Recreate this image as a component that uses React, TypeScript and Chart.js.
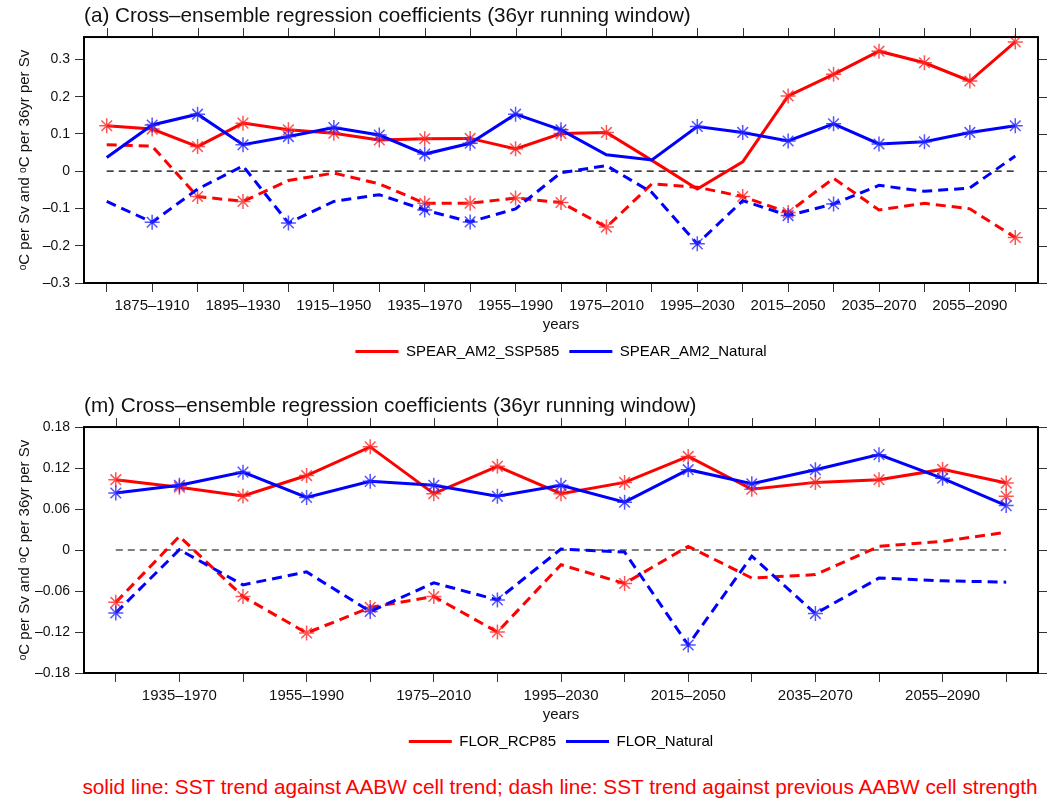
import React, { useEffect, useRef } from 'react';
import { Chart, registerables } from 'chart.js';

Chart.register(...registerables);

// ---------- DATA ----------
const spearWindows = [
  '1865–1900', '1875–1910', '1885–1920', '1895–1930', '1905–1940', '1915–1950', '1925–1960',
  '1935–1970', '1945–1980', '1955–1990', '1965–2000', '1975–2010', '1985–2020', '1995–2030',
  '2005–2040', '2015–2050', '2025–2060', '2035–2070', '2045–2080', '2055–2090', '2065–2100',
];
const florWindows = [
  '1925–1960', '1935–1970', '1945–1980', '1955–1990', '1965–2000', '1975–2010', '1985–2020',
  '1995–2030', '2005–2040', '2015–2050', '2025–2060', '2035–2070', '2045–2080', '2055–2090', '2065–2100',
];

// SPEAR panel (a)
const sspSolid = [0.122, 0.113, 0.066, 0.129, 0.111, 0.102, 0.084, 0.087, 0.088, 0.060, 0.101, 0.104, 0.029, -0.048, 0.025, 0.202, 0.260, 0.322, 0.291, 0.242, 0.347];
const sspSolidSig = [1, 1, 1, 1, 1, 1, 1, 1, 1, 1, 1, 1, 0, 0, 0, 1, 1, 1, 1, 1, 1];
const spearNatSolid = [0.037, 0.124, 0.153, 0.071, 0.093, 0.117, 0.097, 0.046, 0.075, 0.153, 0.111, 0.044, 0.030, 0.120, 0.104, 0.081, 0.127, 0.073, 0.079, 0.104, 0.122];
const spearNatSolidSig = [0, 1, 1, 1, 1, 1, 1, 1, 1, 1, 1, 0, 0, 1, 1, 1, 1, 1, 1, 1, 1];
const sspDash = [0.071, 0.067, -0.068, -0.081, -0.025, -0.005, -0.034, -0.086, -0.086, -0.072, -0.084, -0.150, -0.034, -0.043, -0.068, -0.111, -0.019, -0.104, -0.086, -0.101, -0.178];
const sspDashSig = [0, 0, 1, 1, 0, 0, 0, 1, 1, 1, 1, 1, 0, 0, 1, 1, 0, 0, 0, 0, 1];
const spearNatDash = [-0.081, -0.137, -0.048, 0.014, -0.139, -0.081, -0.063, -0.104, -0.136, -0.101, -0.004, 0.015, -0.057, -0.195, -0.079, -0.119, -0.088, -0.038, -0.054, -0.045, 0.041];
const spearNatDashSig = [0, 1, 0, 0, 1, 0, 0, 1, 1, 0, 0, 0, 0, 1, 0, 1, 1, 0, 0, 0, 0];

// FLOR panel (m)
const rcpSolid = [0.103, 0.092, 0.079, 0.109, 0.151, 0.0825, 0.1225, 0.0825, 0.099, 0.137, 0.089, 0.099, 0.103, 0.118, 0.098];
const rcpSolidSig = [1, 1, 1, 1, 1, 1, 1, 1, 1, 1, 1, 1, 1, 1, 1];
const florNatSolid = [0.0835, 0.0947, 0.114, 0.077, 0.1005, 0.0947, 0.0786, 0.0947, 0.070, 0.1176, 0.097, 0.1176, 0.1396, 0.105, 0.065];
const florNatSolidSig = [1, 1, 1, 1, 1, 1, 1, 1, 1, 1, 1, 1, 1, 1, 1];
const rcpDash = [-0.0766, 0.020, -0.068, -0.1215, -0.084, -0.068, -0.120, -0.0215, -0.049, 0.0054, -0.041, -0.036, 0.0054, 0.0127, 0.026];
const rcpDashSig = [1, 0, 1, 1, 1, 1, 1, 0, 1, 0, 0, 0, 0, 0, 0];
const florNatDash = [-0.092, 0.0005, -0.051, -0.032, -0.090, -0.048, -0.073, 0.0015, -0.003, -0.139, -0.009, -0.093, -0.041, -0.045, -0.047];
const florNatDashSig = [1, 0, 0, 0, 1, 0, 1, 0, 0, 1, 0, 1, 0, 0, 0];
const rcpExtraPoint = [null, null, null, null, null, null, null, null, null, null, null, null, null, null, 0.0786];

const spearYTickValues = [-0.3, -0.2, -0.1, 0, 0.1, 0.2, 0.3];
const spearYRange = { min: -0.3, max: 0.36, digits: 1 };
const florYTickValues = [-0.18, -0.12, -0.06, 0, 0.06, 0.12, 0.18];
const florYRange = { min: -0.18, max: 0.18, digits: 2 };

// ---------- STYLE ----------
const FONT = 'Liberation Sans, "DejaVu Sans", Arial, Helvetica, sans-serif';
const RED = '#ff0000';
const BLUE = '#0000ff';
const RED_MARK = 'rgba(255,40,40,0.8)';
const BLUE_MARK = 'rgba(40,40,255,0.8)';
const Y_TITLE = 'ᵒC per Sv and ᵒC per 36yr per Sv';

const framePlugin = {
  id: 'frameTicks',
  afterDraw(chart: any) {
    const { ctx, chartArea: a, scales } = chart;
    const xs = scales.x;
    const ys = scales.y;
    ctx.save();
    ctx.strokeStyle = '#333';
    ctx.lineWidth = 1;
    ctx.beginPath();
    xs.ticks.forEach((_t: any, i: number) => {
      const px = Math.round(xs.getPixelForTick(i)) + 0.5;
      ctx.moveTo(px, a.top);
      ctx.lineTo(px, a.top - 9);
    });
    ys.ticks.forEach((_t: any, i: number) => {
      const py = Math.round(ys.getPixelForTick(i)) + 0.5;
      ctx.moveTo(a.right, py);
      ctx.lineTo(a.right + 9, py);
    });
    ctx.stroke();
    ctx.strokeStyle = '#000';
    ctx.lineWidth = 2;
    ctx.strokeRect(a.left, a.top, a.right - a.left, a.bottom - a.top);
    ctx.restore();
  },
};

function series(label: string, data: (number | null)[], sig: number[], color: string, mark: string, dashed: boolean) {
  return {
    label,
    data,
    borderColor: color,
    backgroundColor: color,
    borderWidth: 3,
    borderDash: dashed ? [10, 6] : [],
    tension: 0,
    pointStyle: 'star',
    pointRadius: sig.map((s) => (s ? 7.5 : 0)),
    pointBorderColor: mark,
    pointBackgroundColor: mark,
    pointBorderWidth: 1.5,
    clip: 10,
  };
}

function makeConfig(p: any) {
  const yfmt = (v: number) => {
    if (Math.abs(v) < 1e-9) return '0';
    return (v < 0 ? '–' : '') + Math.abs(v).toFixed(p.yr.digits);
  };
  const datasets: any[] = [
    series(p.names[1], p.natSolid, p.natSolidSig, BLUE, BLUE_MARK, false),
    series(p.names[0], p.mainSolid, p.mainSolidSig, RED, RED_MARK, false),
    series(p.names[1] + ' dash', p.natDash, p.natDashSig, BLUE, BLUE_MARK, true),
    series(p.names[0] + ' dash', p.mainDash, p.mainDashSig, RED, RED_MARK, true),
  ];
  if (p.extra) {
    datasets.push({
      label: 'extra',
      data: p.extra,
      showLine: false,
      borderColor: RED,
      pointStyle: 'star',
      pointRadius: 7.5,
      pointBorderColor: RED_MARK,
      pointBorderWidth: 1.5,
      clip: 10,
    });
  }
  datasets.push({
    label: 'zero',
    data: p.labels.map(() => 0),
    borderColor: '#000',
    borderWidth: 1.2,
    borderDash: [7, 5],
    pointRadius: 0,
    tension: 0,
  });
  return {
    type: 'line',
    data: { labels: p.labels, datasets },
    plugins: [framePlugin],
    options: {
      responsive: false,
      animation: false,
      events: [],
      devicePixelRatio: 1,
      layout: { padding: { left: 0, right: 5, top: 0, bottom: 0 } },
      plugins: {
        tooltip: { enabled: false },
        title: {
          display: true,
          text: p.title,
          position: 'top',
          align: 'start',
          fullSize: false,
          color: '#111',
          font: { family: FONT, size: 20.7, weight: 'normal' },
          padding: { top: 4, bottom: 8.2 },
        },
        legend: {
          display: true,
          position: 'bottom',
          fullSize: false,
          labels: {
            boxWidth: 43,
            boxHeight: 3,
            padding: 10,
            color: '#111',
            font: { family: FONT, size: 15 },
            generateLabels: () => [
              { text: p.names[0], fillStyle: RED, strokeStyle: RED, lineWidth: 0, hidden: false, datasetIndex: 1 },
              { text: p.names[1], fillStyle: BLUE, strokeStyle: BLUE, lineWidth: 0, hidden: false, datasetIndex: 0 },
            ],
          },
        },
      },
      scales: {
        x: {
          type: 'category',
          offset: true,
          grid: { display: true, offset: false, drawOnChartArea: false, drawTicks: true, tickLength: 9, color: '#333', lineWidth: 1 },
          border: { display: false },
          ticks: {
            autoSkip: false,
            maxRotation: 0,
            minRotation: 0,
            padding: 5,
            color: '#111',
            font: { family: FONT, size: 15 },
            callback: (_v: any, i: number) => (i % 2 === 1 ? p.labels[i] : ''),
          },
          title: { display: true, text: 'years', color: '#111', font: { family: FONT, size: 15 }, padding: { top: 0, bottom: 0 } },
          afterFit: (s: any) => { s.height = 51; },
        },
        y: {
          type: 'linear',
          min: p.yr.min,
          max: p.yr.max,
          grid: { display: true, drawOnChartArea: false, drawTicks: true, tickLength: 9, color: '#333', lineWidth: 1 },
          border: { display: false },
          ticks: {
            padding: 5,
            color: '#111',
            font: { family: FONT, size: 14 },
            callback: (v: number) => yfmt(v),
          },
          afterBuildTicks: (s: any) => { s.ticks = p.yTicks.map((v: number) => ({ value: v })); },
          title: { display: true, text: Y_TITLE, color: '#111', font: { family: FONT, size: 15 }, padding: { top: 16, bottom: 0 } },
          afterFit: (s: any) => { s.width = 84; },
        },
      },
    },
  };
}

function Panel(props: any) {
  const ref = useRef<HTMLCanvasElement | null>(null);
  useEffect(() => {
    if (!ref.current) return;
    const chart = new Chart(ref.current, makeConfig(props) as any);
    return () => chart.destroy();
  }, []);
  return (
    <canvas
      ref={ref}
      width={1047}
      height={369}
      style={{ position: 'absolute', left: 0, top: props.top, width: 1047, height: 369 }}
    />
  );
}

export default function App() {
  return (
    <div style={{ position: 'absolute', left: 0, top: 0, width: 1047, height: 802, background: '#fff', overflow: 'hidden' }}>
      <Panel
        top={0}
        title="(a) Cross–ensemble regression coefficients (36yr running window)"
        labels={spearWindows}
        names={['SPEAR_AM2_SSP585', 'SPEAR_AM2_Natural']}
        mainSolid={sspSolid}
        mainSolidSig={sspSolidSig}
        natSolid={spearNatSolid}
        natSolidSig={spearNatSolidSig}
        mainDash={sspDash}
        mainDashSig={sspDashSig}
        natDash={spearNatDash}
        natDashSig={spearNatDashSig}
        yTicks={spearYTickValues}
        yr={spearYRange}
      />
      <Panel
        top={390}
        title="(m) Cross–ensemble regression coefficients (36yr running window)"
        labels={florWindows}
        names={['FLOR_RCP85', 'FLOR_Natural']}
        mainSolid={rcpSolid}
        mainSolidSig={rcpSolidSig}
        natSolid={florNatSolid}
        natSolidSig={florNatSolidSig}
        mainDash={rcpDash}
        mainDashSig={rcpDashSig}
        natDash={florNatDash}
        natDashSig={florNatDashSig}
        extra={rcpExtraPoint}
        yTicks={florYTickValues}
        yr={florYRange}
      />
      <div
        style={{
          position: 'absolute',
          left: 60,
          top: 775,
          width: 1000,
          textAlign: 'center',
          whiteSpace: 'nowrap',
          color: '#ff0000',
          fontFamily: FONT,
          fontSize: 20.8,
          lineHeight: '24px',
        }}
      >
        solid line: SST trend against AABW cell trend; dash line: SST trend against previous AABW cell strength
      </div>
    </div>
  );
}
